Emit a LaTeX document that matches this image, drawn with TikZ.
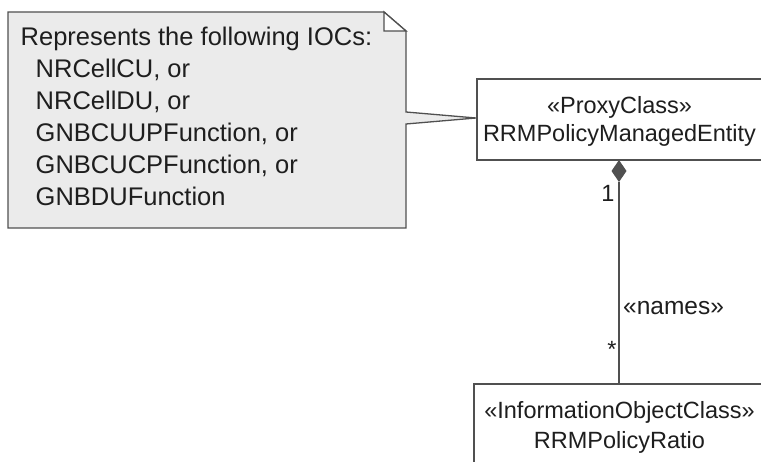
\documentclass[tikz,border=0pt]{standalone}
\usepackage{fontspec}
\setmainfont{Liberation Sans}
\definecolor{notefill}{HTML}{EBEBEB}
\definecolor{linecol}{HTML}{505050}
\definecolor{txtcol}{HTML}{1E1E1E}
\tikzset{
  edge/.style={draw=linecol, line width=1.4pt},
  classbox/.style={draw=linecol, fill=white, line width=1.4pt},
  lbl/.style={text=txtcol, inner sep=0pt, font=\fontsize{23.5}{28}\selectfont},
  noteline/.style={text=txtcol, inner sep=0pt, anchor=base west, font=\fontsize{25.5}{32}\selectfont},
}
\begin{document}
\begin{tikzpicture}[x=1pt,y=-1pt]
\useasboundingbox (0,0) rectangle (761,462);
\clip (0,0) rectangle (761,462);
% note
\draw[edge, fill=notefill, line width=1.3pt] (8,12) -- (384,12) -- (406,31) -- (406,112) -- (476,118) -- (406,124) -- (406,228) -- (8,228) -- cycle;
\draw[edge, fill=white, line width=1.3pt] (384,12) -- (384,31) -- (406,31) -- cycle;
\node[noteline] (n0) at (20.5,46) {Represents the following IOCs:};
\node[noteline] (n1) at (35.5,78) {NRCellCU, or};
\node[noteline] (n2) at (35.5,110) {NRCellDU, or};
\node[noteline] (n3) at (35.5,142) {GNBCUUPFunction, or};
\node[noteline] (n4) at (35.5,174) {GNBCUCPFunction, or};
\node[noteline] (n5) at (35.5,206) {GNBDUFunction};
% class boxes
\path[classbox] (477,79) rectangle (762,160);
\coordinate (topbottom) at (619,160);
\node[lbl] (st1) at (619.5,107) {«ProxyClass»};
\node[lbl] (nm1) at (619.5,135) {RRMPolicyManagedEntity};
\path[classbox] (474,384) rectangle (765,470);
\coordinate (bottop) at (619,384);
\node[lbl] (st2) at (619.5,412) {«InformationObjectClass»};
\node[lbl] (nm2) at (619.5,442) {RRMPolicyRatio};
% composition
\coordinate (dtip) at (619,182);
\draw[edge] (dtip) -- (bottop);
\fill[linecol] (topbottom) -- (626.5,171) -- (dtip) -- (611.5,171) -- cycle;
\node[lbl] (m1) at (608,193) {1};
\node[lbl] (mstar) at (612,349) {*};
\node[lbl, anchor=west, font=\fontsize{24.5}{28}\selectfont] (names) at (623,308) {«names»};
\end{tikzpicture}
\end{document}
